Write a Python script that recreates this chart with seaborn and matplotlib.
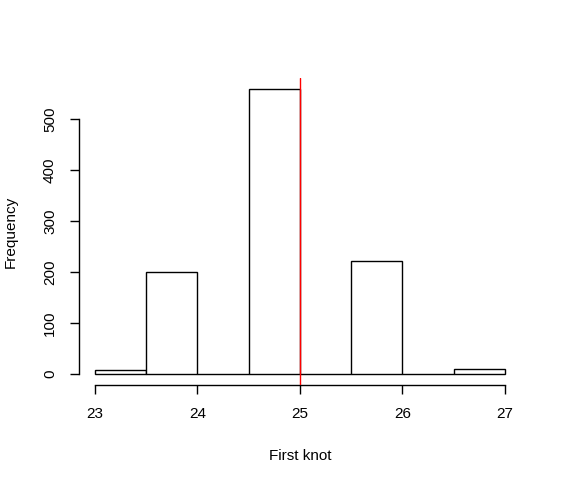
import numpy as np
import pandas as pd
import seaborn as sns
import matplotlib
matplotlib.use("Agg")
import matplotlib.pyplot as plt

bin_edges = [23.0, 23.5, 24.0, 24.5, 25.0, 25.5, 26.0, 26.5, 27.0]
counts = [7, 200, 0, 559, 0, 222, 0, 9]
ref_value = 25.0
x_ticks = [23, 24, 25, 26, 27]
y_ticks = [0, 100, 200, 300, 400, 500]
x_label = "First knot"
y_label = "Frequency"

sns.set_style("white")
plt.rcParams['font.family'] = ['Liberation Sans', 'DejaVu Sans']
plt.rcParams['text.color'] = 'black'
plt.rcParams['axes.labelcolor'] = 'black'

centers = [(a + b) / 2 for a, b in zip(bin_edges[:-1], bin_edges[1:])]
df = pd.DataFrame({"x": centers, "w": counts})

fig = plt.figure(figsize=(5.62, 4.84), dpi=100)
ax = fig.add_axes([78.6 / 562, 1 - 385.4 / 484, (521.4 - 78.6) / 562, (385.4 - 77.6) / 484])

sns.histplot(data=df, x="x", weights="w", bins=bin_edges, ax=ax,
             color="white", edgecolor="black", linewidth=1.0, alpha=1)

xmin, xmax = bin_edges[0], bin_edges[-1]
dx = (xmax - xmin) * 0.04
ax.set_xlim(xmin - dx, xmax + dx)
ymax = max(counts)
dy = ymax * 0.04
ax.set_ylim(-dy, ymax + dy)

ax.axvline(ref_value, color="red", linewidth=1.0, zorder=5)

for s in ["top", "right"]:
    ax.spines[s].set_visible(False)
ax.spines["left"].set_bounds(y_ticks[0], y_ticks[-1])
ax.spines["bottom"].set_bounds(x_ticks[0], x_ticks[-1])
for s in ["left", "bottom"]:
    ax.spines[s].set_color("black")
    ax.spines[s].set_linewidth(1.0)

ax.set_xticks(x_ticks)
ax.set_yticks(y_ticks)
ax.set_xticklabels([str(v) for v in x_ticks])
ax.set_yticklabels([str(v) for v in y_ticks], rotation=90, va="center")
ax.tick_params(axis="both", direction="out", length=6.5, width=1.0, color="black",
               labelsize=11, labelcolor="black", bottom=True, left=True)
ax.tick_params(axis="x", pad=9)
ax.tick_params(axis="y", pad=9)

ax.set_xlabel(x_label, fontsize=11, labelpad=20, color="black")
ax.set_ylabel(y_label, fontsize=11, labelpad=18, color="black")
ax.grid(False)

fig.savefig("out.png", dpi=100)
